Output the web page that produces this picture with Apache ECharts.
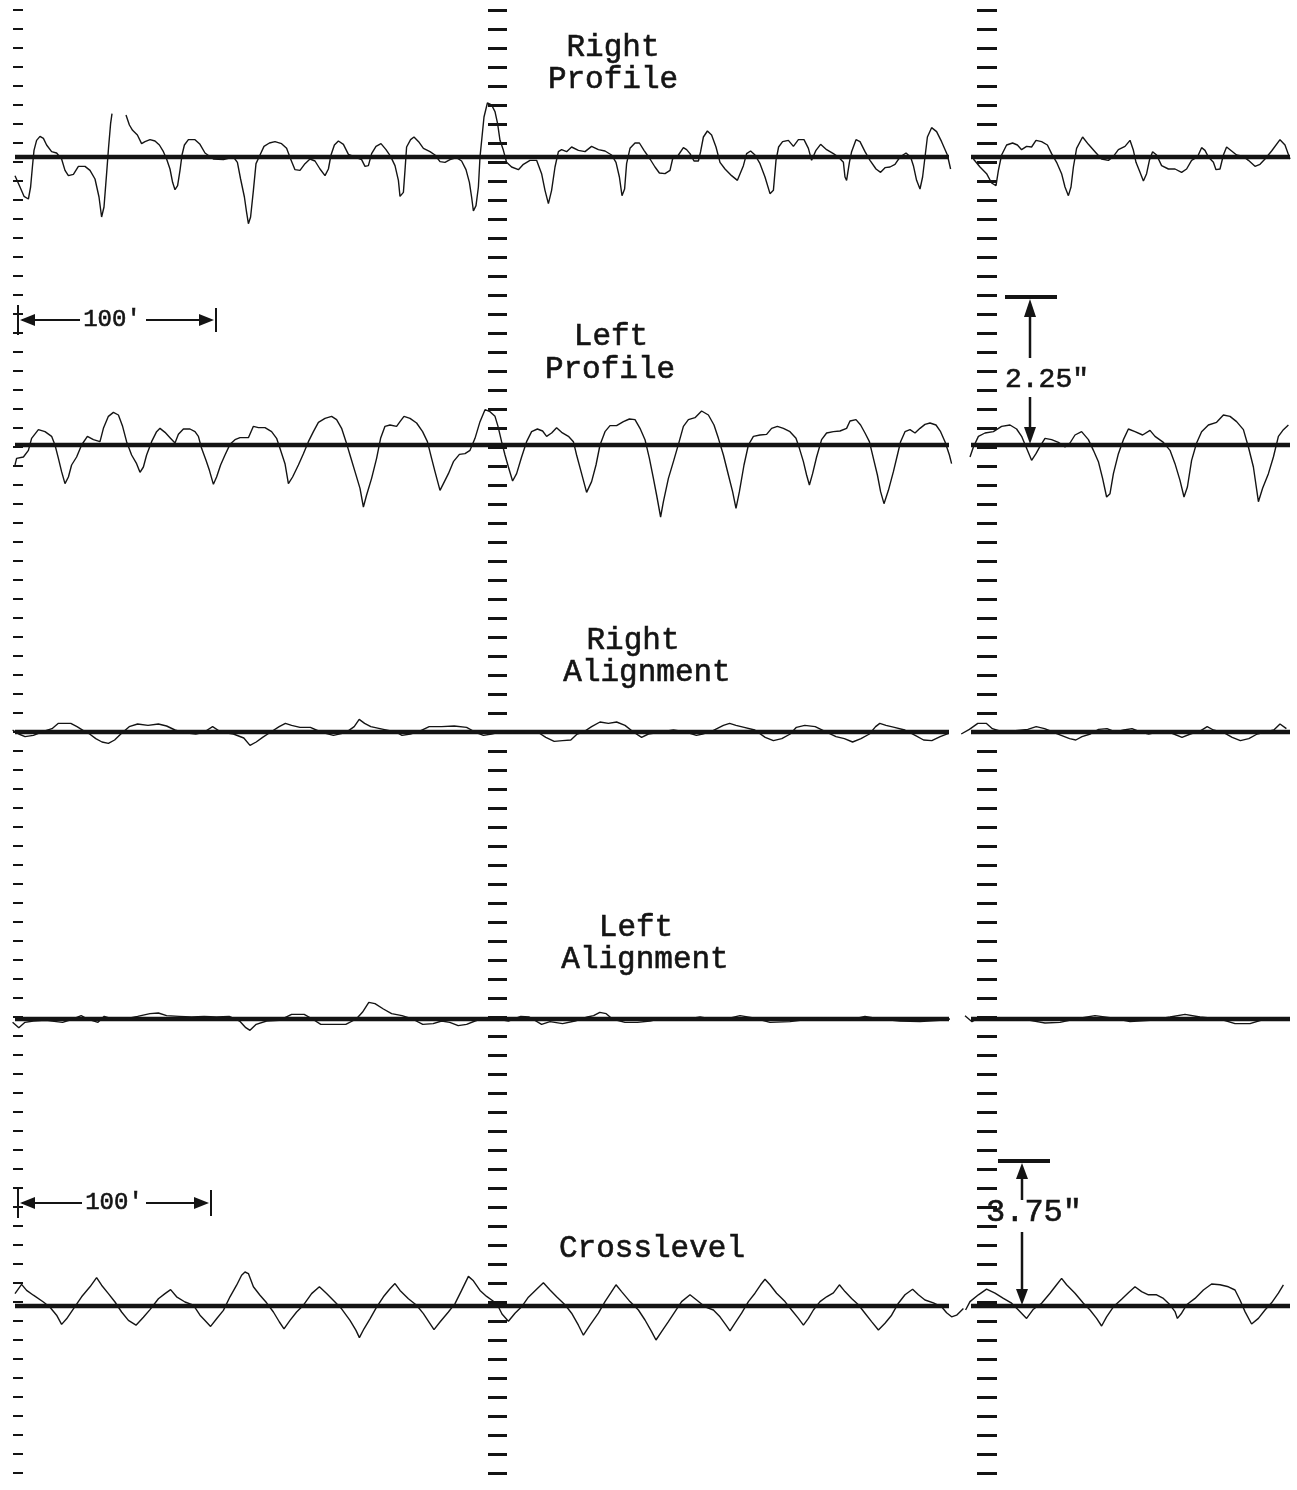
<!DOCTYPE html>
<html><head><meta charset="utf-8">
<script src="https://cdn.jsdelivr.net/npm/echarts@6/dist/echarts.min.js"></script>
<style>html,body{margin:0;padding:0;background:#fff}#c{width:1297px;height:1490px}</style>
</head><body><div id="c"></div>
<script>
// distance in feet, deviation in inches; null = pen break
const rightProfile = [
[-1.5,-0.28],[1,-0.45],[3,-0.59],[5.2,-0.63],[6.3,-0.45],[7.2,-0.15],[8,0.1],[9.3,0.25],[11,0.31],[12.7,0.28],[14.3,0.18],[16.8,0.08],[19.3,0.06],[21.8,-0.03],[23.5,-0.2],[25.2,-0.28],[27.7,-0.26],[30.2,-0.14],[33.5,-0.14],[36,-0.2],[38.5,-0.33],[40.5,-0.6],[41.8,-0.9],[43,-0.75],[44.3,-0.25],[45.3,0.15],[46.3,0.5],[47,0.65],null,
[54,0.63],[55.7,0.48],[57.3,0.4],[59.7,0.33],[61.8,0.2],[63.5,0.23],[66,0.26],[68.5,0.24],[70.7,0.18],[72.7,0.08],[74.3,-0.03],[76,-0.18],[77.3,-0.38],[78.5,-0.49],[79.8,-0.43],[81,-0.2],[82,0.03],[83.2,0.18],[85.2,0.26],[88.5,0.26],[91,0.19],[93.5,0.06],[97.7,-0.03],[102.7,-0.04],[107.7,0],[109.7,-0.08],[111.3,-0.33],[113.2,-0.6],[114.3,-0.83],[115.2,-1.0],[116.3,-0.9],[117.7,-0.5],[119,-0.1],[121,0.03],[123,0.16],[125.7,0.21],[128.5,0.23],[131.8,0.2],[134.3,0.13],[136.3,-0.03],[138.5,-0.19],[141,-0.2],[143.5,-0.1],[146,-0.03],[148.5,-0.06],[151,-0.18],[153.5,-0.28],[155.2,-0.18],[156.5,0.03],[158.2,0.18],[160.2,0.24],[162.7,0.19],[165.2,0.04],[168.5,0],[171.8,-0.04],[173.5,-0.14],[175.2,-0.13],[176.8,0.05],[179,0.16],[181.5,0.2],[184,0.11],[186.3,0.01],[188.5,-0.13],[190.2,-0.35],[191,-0.59],[192.7,-0.53],[193.5,-0.2],[194.3,0.15],[196.3,0.26],[198,0.3],[200.3,0.23],[202.7,0.13],[206,0.08],[208.5,0.03],[211,-0.07],[213.5,-0.08],[216,-0.04],[219.3,-0.01],[221.8,-0.06],[224,-0.19],[225.7,-0.38],[226.8,-0.6],[227.7,-0.81],[229,-0.73],[230.2,-0.45],[231,0],[232,0.3],[233,0.6],[234.7,0.81],[236.8,0.78],[238.5,0.68],[239.8,0.5],[241,0.25],[242.7,0.1],[244.3,-0.08],[246.8,-0.15],[250.2,-0.19],[252.7,-0.11],[256,-0.05],[259.3,-0.05],[261.8,-0.25],[263.5,-0.5],[265.2,-0.7],[266.8,-0.5],[268.5,-0.15],[270.2,0.08],[271.8,0.11],[274.3,0.08],[276.8,0.15],[280.2,0.1],[283.5,0.08],[286.8,0.16],[290.2,0.11],[293.5,0.09],[296.8,0.03],[299,-0.08],[300.7,-0.3],[302,-0.58],[303.3,-0.48],[304.3,-0.1],[306,0.13],[308.5,0.21],[310.7,0.21],[313,0.1],[316,-0.03],[318.5,-0.15],[320.7,-0.24],[323.5,-0.25],[326,-0.2],[327.3,-0.03],[330.2,0.03],[332.7,0.14],[334.3,0.11],[336,0.05],[338,-0.06],[340.2,-0.06],[341.3,0.08],[342.7,0.3],[344.7,0.39],[346.8,0.33],[349,0.15],[351,-0.08],[353.5,-0.18],[356.8,-0.28],[359.7,-0.35],[362.7,-0.13],[364.3,0.05],[366.3,0.09],[368.5,0.03],[371,-0.1],[373.5,-0.3],[376,-0.55],[377.7,-0.5],[379,-0.05],[380.3,0.15],[382.3,0.23],[385.2,0.25],[387.7,0.16],[390.2,0.26],[393,0.26],[395.2,0.13],[396.8,-0.05],[399,0.1],[401.3,0.19],[404.3,0.11],[407.7,0.05],[410.2,0],[412.7,-0.08],[413.5,-0.3],[414.3,-0.35],[415.7,-0.08],[416.8,0.08],[419,0.26],[421,0.23],[423.5,0.08],[426,-0.05],[429,-0.18],[431.3,-0.23],[433.5,-0.16],[436,-0.15],[438.5,-0.11],[441,0],[444,0.06],[446.3,0],[447.7,-0.13],[449.3,-0.35],[451,-0.48],[452.3,-0.3],[453.5,0],[454.7,0.3],[456.8,0.44],[459.3,0.38],[461.8,0.23],[464.7,0.03],[466.3,-0.18],null,
[477.7,-0.03],[481,-0.15],[484.3,-0.25],[486.8,-0.39],[489,-0.43],[490.2,-0.2],[491.8,0.03],[494.3,0.18],[497.3,0.21],[499.7,0.18],[501.8,0.11],[504.3,0.16],[506.8,0.15],[509,0.25],[511.8,0.23],[514.7,0.18],[516.8,0.05],[519.3,-0.08],[521.8,-0.25],[523.5,-0.45],[525.2,-0.58],[526.5,-0.45],[527.7,-0.15],[529.3,0.13],[532.3,0.3],[535.2,0.19],[538.5,0.08],[541.8,-0.03],[545.2,-0.05],[547.7,0.01],[550.2,0.11],[553.5,0.16],[556,0.25],[557.7,0.1],[559,-0.08],[561,-0.23],[562.7,-0.36],[564.3,-0.25],[565.7,-0.05],[567.3,0.08],[569.3,0.03],[571.8,-0.13],[575.2,-0.18],[578.5,-0.18],[581.8,-0.23],[584.3,-0.18],[586.8,-0.05],[589.7,0],[591.8,0.14],[593.5,0.1],[595.2,0],[597.7,-0.08],[599,-0.19],[601,-0.18],[602.7,0.03],[604.3,0.15],[606.8,0.09],[609.3,0.03],[612.7,0.01],[615.2,-0.05],[618.5,-0.14],[621,-0.11],[623.5,-0.03],[626.8,0.09],[631,0.26],[633.5,0.18],[636,-0.03]
];
const leftProfile = [
[-1.5,-0.3],[-0.7,-0.2],[2.7,-0.18],[5.2,-0.08],[6.8,0.1],[10.2,0.23],[13.5,0.2],[16.8,0.13],[18.5,0],[20.2,-0.2],[21.8,-0.4],[23.5,-0.58],[25.2,-0.48],[26.8,-0.3],[29.3,-0.18],[31.8,0],[34.7,0.13],[37.7,0.08],[41,0.05],[42.7,0.25],[45.2,0.43],[47.7,0.49],[50.2,0.45],[52.3,0.28],[54.3,0.05],[56.8,-0.15],[59.3,-0.28],[61,-0.41],[62.7,-0.33],[64.3,-0.15],[66.8,0.05],[69.3,0.2],[71,0.25],[73.5,0.19],[76,0.11],[78.5,0.03],[80.2,0.16],[82.7,0.24],[86,0.24],[88.5,0.2],[90.2,0.13],[91.8,-0.05],[94,-0.23],[95.7,-0.38],[97.7,-0.59],[99.3,-0.48],[101.3,-0.3],[103.5,-0.15],[106,0.01],[108.5,0.08],[111,0.11],[115.2,0.11],[117.7,0.28],[120.2,0.26],[123.5,0.26],[126.8,0.2],[129.3,0.1],[131.3,-0.08],[133.5,-0.28],[135.2,-0.58],[137.3,-0.48],[140.2,-0.3],[142.7,-0.13],[145.2,0.05],[147.7,0.2],[150.2,0.34],[153.5,0.4],[156.8,0.43],[159.3,0.38],[161.8,0.25],[164,0.05],[166.3,-0.18],[168.5,-0.4],[171,-0.65],[172.7,-0.93],[174.3,-0.75],[176.8,-0.5],[179.3,-0.2],[181.3,0.1],[183.5,0.28],[186,0.3],[189.3,0.28],[191,0.35],[193,0.43],[196,0.4],[199.3,0.33],[202.3,0.2],[204.7,0.05],[206.8,-0.2],[208.5,-0.4],[211,-0.68],[212.7,-0.58],[215.2,-0.43],[217.7,-0.25],[220.7,-0.14],[223.5,-0.13],[226,-0.08],[228.5,0.1],[231,0.35],[233.5,0.53],[236,0.5],[238.5,0.43],[240,0.28],[241.8,0.05],[243.5,-0.15],[245.2,-0.33],[247.3,-0.54],[249.3,-0.43],[251.8,-0.18],[254.3,0.05],[256.8,0.2],[259.7,0.24],[262.3,0.21],[264.3,0.13],[266.8,0.18],[269.3,0.26],[271.8,0.19],[275.2,0.13],[277.7,0.05],[279.3,-0.15],[281.8,-0.43],[284.3,-0.71],[286.8,-0.55],[289,-0.3],[291,0],[293.5,0.2],[296,0.29],[299.3,0.29],[302.7,0.35],[305.7,0.39],[308.5,0.38],[311,0.25],[313.5,0.08],[315.7,-0.2],[317.7,-0.5],[319.3,-0.75],[321.3,-1.08],[322.7,-0.85],[325.2,-0.5],[327.7,-0.25],[330.2,0.01],[332.7,0.28],[335.2,0.38],[338.5,0.41],[341.8,0.51],[345.2,0.45],[348,0.3],[350.2,0.1],[352.7,-0.15],[355.2,-0.45],[357.3,-0.7],[359,-0.95],[360.7,-0.7],[363,-0.3],[365.2,0],[367.7,0.13],[371,0.15],[374.3,0.16],[376.8,0.25],[379.7,0.28],[382.7,0.25],[386,0.2],[389,0.1],[390.7,-0.05],[392.7,-0.25],[394.3,-0.45],[395.7,-0.6],[397.3,-0.43],[399.3,-0.18],[401.8,0.08],[404.3,0.18],[407.7,0.2],[411,0.21],[414.3,0.25],[416,0.36],[419,0.38],[421.3,0.3],[423.5,0.18],[425.7,0.05],[427.7,-0.2],[429.7,-0.45],[431.3,-0.7],[433,-0.88],[435.2,-0.68],[437.7,-0.4],[439.7,-0.15],[441.3,0.05],[443.5,0.2],[446,0.23],[448.5,0.18],[451,0.25],[453.5,0.31],[456,0.33],[459,0.3],[461.3,0.2],[463.5,0.05],[465.7,-0.15],[466.8,-0.28],null,
[476,-0.18],[477.7,-0.03],[480.2,0.13],[483.5,0.18],[487.7,0.2],[491.8,0.28],[496,0.3],[499.3,0.24],[501.8,0.13],[504.3,-0.05],[506.8,-0.23],[509,-0.13],[511,-0.02],[513.5,0.1],[516.8,0.08],[520.2,0.04],[523.5,-0.03],[526,0.03],[528.5,0.15],[531.8,0.2],[535.2,0.08],[537.7,-0.08],[540.2,-0.25],[542.3,-0.5],[544.3,-0.78],[546,-0.73],[547.7,-0.43],[550.2,-0.13],[552.7,0.08],[555.2,0.24],[558.5,0.2],[562.3,0.15],[566,0.22],[568.5,0.13],[572.7,0.04],[576,-0.08],[578.5,-0.28],[581,-0.53],[583,-0.78],[584.7,-0.63],[586.8,-0.23],[589.3,0.03],[591.8,0.2],[595.2,0.3],[599.3,0.34],[602.7,0.45],[606,0.43],[609.3,0.35],[612.7,0.23],[615.2,-0.03],[617.7,-0.33],[620.2,-0.85],[622.3,-0.65],[625.2,-0.43],[627.7,-0.18],[630.2,0.13],[632.7,0.23],[635.2,0.3]
];
const rightAlignment = [
[-2.7,0.03],[0.4,-0.03],[3.5,-0.07],[7.7,-0.05],[11.8,0],[17,0.05],[20.2,0.13],[23.3,0.13],[26.4,0.13],[29.5,0.08],[32.7,0.02],[35.8,-0.03],[38.9,-0.1],[42,-0.15],[45.2,-0.17],[48.3,-0.12],[51.4,-0.03],[55.6,0.08],[59.8,0.12],[65,0.1],[70.2,0.12],[74.3,0.09],[78.5,0.03],[82.7,-0.01],[88.9,-0.03],[93.1,0],[97.3,0.08],[101.4,0],[107.7,-0.03],[112.9,-0.09],[116,-0.2],[119.1,-0.15],[122.3,-0.08],[126.4,0],[130.6,0.08],[133.7,0.13],[136.8,0.1],[141,0.07],[146.2,0.07],[151.4,0],[157.7,-0.05],[163.9,-0.01],[168.1,0.08],[170.6,0.19],[173.3,0.13],[176.4,0.08],[182.7,0.04],[188.9,0],[192,-0.05],[196.2,-0.03],[201.4,0.02],[205.6,0.08],[211.8,0.08],[218.1,0.09],[224.3,0.07],[228.5,0],[232.7,-0.05],[236.8,-0.03],[241,0],[247.3,-0.01],[253.5,0],[259.8,0],[263.9,-0.08],[268.1,-0.14],[272.3,-0.13],[276.4,-0.12],[279.6,-0.03],[282.7,0],[286.8,0.08],[291,0.15],[295.2,0.13],[299.3,0.15],[303.5,0.1],[307.7,0],[311.8,-0.08],[315.2,-0.03],[321.4,0],[327.7,0.03],[333.9,0],[339.2,-0.05],[342.3,-0.03],[347.5,0.02],[352.7,0.1],[355.8,0.13],[359,0.1],[363.1,0.07],[368.4,0.03],[373.6,-0.08],[377.7,-0.13],[381.9,-0.1],[386.1,-0.03],[389.2,0.07],[393.4,0.1],[398.6,0.08],[402.7,0.02],[409,-0.07],[413.2,-0.1],[417.3,-0.15],[421.5,-0.1],[425.7,-0.03],[428.8,0.08],[430.9,0.13],[434,0.1],[438.2,0.07],[443.4,0.03],[448.6,-0.05],[452.8,-0.12],[456.9,-0.13],[461.1,-0.07],[465.3,-0.02],null,
[471.6,-0.03],[475.7,0.04],[479.9,0.13],[484.1,0.13],[487.2,0.05],[492.4,0],[498.7,0.02],[504.9,0.04],[509.1,0.08],[513.3,0.05],[517.4,0],[521.6,-0.05],[525.8,-0.1],[528.9,-0.12],[532,-0.07],[536.2,-0.03],[540.3,0.04],[544.5,0.05],[548.7,0],[552.9,0.03],[557,0.05],[561.2,0],[565.4,-0.03],[569.5,0],[573.7,0.02],[577.9,-0.03],[582,-0.08],[586.2,-0.03],[591.4,0.02],[594.6,0.08],[597.7,0.03],[602.9,-0.01],[607.1,-0.08],[611.2,-0.13],[615.4,-0.1],[619.6,-0.03],[623.8,0],[627.9,0.03],[631,0.12],[634.2,0.05]
];
const leftAlignment = [
[-2.7,-0.05],[0.4,-0.13],[3.5,-0.05],[7.7,-0.03],[13.9,-0.02],[22.3,-0.05],[27.5,0],[31.6,0.05],[34.8,0],[40,-0.05],[43.1,0.04],[47.3,0],[53.5,0],[59.8,0.04],[66,0.08],[70.2,0.09],[74.3,0.05],[80.6,0.04],[86.8,0.03],[93.1,0.04],[99.3,0.03],[105.6,0.04],[110.8,-0.03],[113.9,-0.13],[116,-0.17],[119.1,-0.08],[124.3,-0.03],[130.6,-0.02],[136.8,0.07],[143.1,0.07],[147.2,0],[151.4,-0.08],[157.7,-0.08],[163.9,-0.08],[169.1,0],[172.2,0.1],[175.4,0.25],[178.5,0.23],[182.7,0.15],[186.8,0.08],[192,0.05],[197.2,0],[202.4,-0.08],[207.6,-0.07],[211.8,-0.03],[215.9,-0.05],[220.1,-0.1],[224.3,-0.08],[228.5,-0.03],[233.7,0.02],[239.9,0],[245.2,-0.03],[251.4,0.04],[255.6,0.03],[261.8,-0.08],[266,-0.04],[272.3,-0.07],[278.5,-0.03],[284.7,0.03],[287.8,0.05],[290.9,0.1],[294.1,0.08],[297.2,0],[303.5,-0.05],[309.7,-0.05],[316,-0.03],[323.5,0.02],[331,-0.02],[341,0.03],[351,-0.02],[361,0.05],[367,0.02],[376,-0.05],[386,-0.04],[396,0],[406,0.02],[416,-0.01],[423.5,0.04],[431,0],[441,-0.03],[451,-0.04],[461,-0.02],[466,0],null,
[473.5,0.05],[477,-0.04],[481,0.03],[491,0],[506,-0.02],[513.5,-0.06],[521,-0.05],[528.5,0],[538.5,0.05],[546,0.02],[556,-0.04],[566,-0.02],[576,0.03],[583.5,0.07],[591,0.03],[601,0],[608.5,-0.07],[616,-0.07],[623.5,0],[631,0.02],[636,0]
];
const crosslevel = [
[-1.5,0.31],[1.8,0.54],[4.3,0.39],[7.7,0.27],[12.7,0.1],[16,-0.03],[19.3,-0.23],[21.8,-0.46],[24.3,-0.32],[27.7,-0.07],[31.8,0.23],[36,0.48],[39.3,0.71],[41.8,0.52],[45.2,0.31],[48.5,0.1],[51.8,-0.15],[55.2,-0.36],[59,-0.48],[62.7,-0.28],[66,-0.09],[70.2,0.18],[73.5,0.31],[76.3,0.41],[79.3,0.23],[83.5,0.1],[87.7,0.02],[91,-0.23],[93.5,-0.36],[96.3,-0.51],[99.3,-0.32],[102.7,-0.11],[106,0.23],[109.3,0.52],[111.8,0.77],[113.5,0.85],[115.2,0.81],[117.7,0.48],[121,0.27],[124.3,0.08],[127.7,-0.15],[130.7,-0.4],[133,-0.57],[136,-0.36],[139.3,-0.15],[142.7,0.02],[146.8,0.31],[150.7,0.48],[154.3,0.31],[158.5,0.1],[161.8,-0.07],[166,-0.36],[169,-0.61],[170.7,-0.79],[173,-0.57],[176,-0.32],[179.3,-0.03],[182.7,0.23],[186,0.43],[188.5,0.56],[191,0.39],[195.2,0.18],[199.3,0.02],[202.7,-0.19],[206,-0.44],[208,-0.59],[211,-0.4],[215.2,-0.15],[218.5,0.06],[221.8,0.39],[225.2,0.74],[227.7,0.63],[231,0.39],[234.3,0.24],[237.7,0.12],[240,0],[242,-0.2],[245.2,-0.38],[248.5,-0.18],[251.8,-0.02],[255.2,0.22],[259.3,0.42],[262.7,0.58],[266,0.4],[269.3,0.23],[273.5,0.03],[276.8,-0.18],[280.2,-0.48],[282.7,-0.73],[286,-0.48],[290.2,-0.18],[293.5,0.11],[296.3,0.32],[299,0.53],[301.8,0.36],[306,0.11],[310.2,-0.1],[313.5,-0.35],[316.8,-0.64],[319,-0.85],[321.8,-0.64],[325.2,-0.39],[328.5,-0.14],[331.8,0.11],[336,0.28],[339.3,0.15],[343.5,-0.02],[347.7,-0.1],[351,-0.27],[354,-0.48],[356,-0.62],[358.5,-0.43],[361.8,-0.18],[365.2,0.11],[368.5,0.32],[371.3,0.53],[373.5,0.67],[376,0.53],[379.3,0.32],[383.5,0.11],[386.8,-0.1],[390.2,-0.31],[392.7,-0.48],[395.2,-0.31],[397.7,-0.1],[401,0.11],[404.3,0.23],[407.7,0.33],[410.7,0.53],[413.5,0.36],[416.8,0.19],[420.2,0.03],[423.5,-0.18],[426.8,-0.39],[430.2,-0.6],[433.5,-0.43],[436.8,-0.23],[440.2,0.07],[443.5,0.28],[447.3,0.42],[450.2,0.28],[453.5,0.15],[457.7,0.08],[461.8,-0.02],[464.3,-0.17],[466.8,-0.27],[469.3,-0.23],[472.7,-0.06],null,
[473.8,-0.1],[476,0.11],[480.2,0.28],[484.3,0.42],[488.5,0.32],[492.7,0.19],[496.8,0.07],[500.2,-0.1],[504.3,-0.31],[507.7,-0.08],[511.8,0.07],[516,0.32],[519.3,0.53],[521.8,0.69],[524.3,0.53],[528.5,0.32],[532.7,0.07],[536,-0.1],[539.3,-0.31],[541.8,-0.5],[544.3,-0.27],[547.7,-0.02],[551.8,0.17],[555.2,0.33],[558.5,0.48],[561.8,0.36],[565.2,0.28],[569.3,0.28],[572.7,0.19],[576,0.03],[578.5,-0.14],[579.7,-0.31],[581.8,-0.18],[584.3,0.03],[588.5,0.19],[592.7,0.4],[596.8,0.55],[601,0.53],[605.2,0.48],[608.5,0.4],[611,0.15],[613.5,-0.14],[616.8,-0.45],[620.2,-0.31],[623.5,-0.1],[626.8,0.08],[630.2,0.32],[632.7,0.53]
];
// reference line extents (feet) on each side of the sheet break
const baseSegments = [[-1.5, 465.5], [476.5, 636]];

// span = half-height of each strip in inches (strip half-height is 150 px)
const traces = [
  {name: 'Right Profile', data: rightProfile, base: 157, span: 2.25},
  {name: 'Left Profile', data: leftProfile, base: 445, span: 2.25},
  {name: 'Right Alignment', data: rightAlignment, base: 732, span: 2.25},
  {name: 'Left Alignment', data: leftAlignment, base: 1019, span: 2.25},
  {name: 'Crosslevel', data: crosslevel, base: 1306, span: 3.75}
];
const INK = '#141414';
const grid = [], xAxis = [], yAxis = [], series = [];
const baseData = [];
baseSegments.forEach((s, i) => { if (i) baseData.push([null, null]); baseData.push([s[0], 0], [s[1], 0]); });
traces.forEach((t, i) => {
  grid.push({left: 10, right: 7, top: t.base - 150, height: 300});
  xAxis.push({gridIndex: i, type: 'value', min: -4, max: 636, show: false});
  yAxis.push({gridIndex: i, type: 'value', min: -t.span, max: t.span, show: false});
  series.push({type: 'line', name: t.name + ' ref', xAxisIndex: i, yAxisIndex: i, data: baseData,
    showSymbol: false, silent: true, lineStyle: {color: INK, width: 4.5}, z: 2});
  series.push({type: 'line', name: t.name, xAxisIndex: i, yAxisIndex: i,
    data: t.data.map(p => p === null ? [null, null] : p), connectNulls: false,
    showSymbol: false, lineStyle: {color: INK, width: 1.4}, z: 3});
});
// chart-paper tick columns (right edge px, tick length px, width)
const columns = [[23, 10, 2], [507, 19, 3], [997, 20, 3]];
columns.forEach((c, j) => {
  const gi = grid.length;
  grid.push({left: c[0], width: 1, top: 10, height: 1463});
  xAxis.push({gridIndex: gi, type: 'value', show: false, min: 0, max: 1});
  yAxis.push({gridIndex: gi, type: 'value', min: 0, max: 77, interval: 1,
    axisLine: {show: false}, axisLabel: {show: false}, splitLine: {show: false},
    axisTick: {show: true, length: c[1], lineStyle: {color: INK, width: c[2]}}});
});

const FONT = '"Liberation Mono", "DejaVu Sans Mono", monospace';
function txt(s, x, y, size, align) {
  return {type: 'text', x: x, y: y, z: 10, style: {text: s, font: size + 'px ' + FONT, fill: INK,
    stroke: INK, lineWidth: 0.6,
    align: align || 'center', verticalAlign: 'middle', textAlign: align || 'center', textVerticalAlign: 'middle'}};
}
function ln(x1, y1, x2, y2, w) {
  return {type: 'line', z: 10, shape: {x1, y1, x2, y2}, style: {stroke: INK, lineWidth: w || 2}};
}
function tri(pts) { return {type: 'polygon', z: 10, shape: {points: pts}, style: {fill: INK}}; }

const graphic = [
  txt('Right', 613, 48, 31), txt('Profile', 613, 80, 31),
  txt('Left', 611, 337, 31), txt('Profile', 610, 370, 31),
  txt('Right', 633, 641, 31), txt('Alignment', 647, 673, 31),
  txt('Left', 636, 928, 31), txt('Alignment', 645, 960, 31),
  txt('Crosslevel', 652, 1249, 31),
  // 100 ft scale (upper)
  ln(18, 305, 18, 335, 2), ln(22, 320, 80, 320, 2), tri([[20, 320], [35, 314], [35, 326]]),
  txt("100'", 112, 320, 24), ln(146, 320, 205, 320, 2), tri([[214, 320], [199, 314], [199, 326]]), ln(216, 308, 216, 332, 2),
  // 100 ft scale (lower)
  ln(18, 1188, 18, 1218, 2), ln(22, 1203, 82, 1203, 2), tri([[20, 1203], [35, 1197], [35, 1209]]),
  txt("100'", 114, 1203, 24), ln(146, 1203, 200, 1203, 2), tri([[209, 1203], [194, 1197], [194, 1209]]), ln(211, 1190, 211, 1216, 2),
  // 2.25" marker
  ln(1005, 297, 1057, 297, 4), ln(1030, 358, 1030, 310, 2.5), tri([[1030, 299], [1024, 317], [1036, 317]]),
  txt('2.25"', 1005, 380, 28, 'left'),
  ln(1030, 397, 1030, 432, 2.5), tri([[1030, 444], [1024, 427], [1036, 427]]),
  // 3.75" marker
  ln(998, 1161, 1050, 1161, 4), ln(1022, 1200, 1022, 1172, 2.5), tri([[1022, 1163], [1016, 1179], [1028, 1179]]),
  txt('3.75"', 986, 1213, 32, 'left'),
  ln(1022, 1232, 1022, 1292, 2.5), tri([[1022, 1305], [1016, 1289], [1028, 1289]])
];

const chart = echarts.init(document.getElementById('c'));
chart.setOption({backgroundColor: '#fff', animation: false, grid, xAxis, yAxis, series, graphic});
</script></body></html>
